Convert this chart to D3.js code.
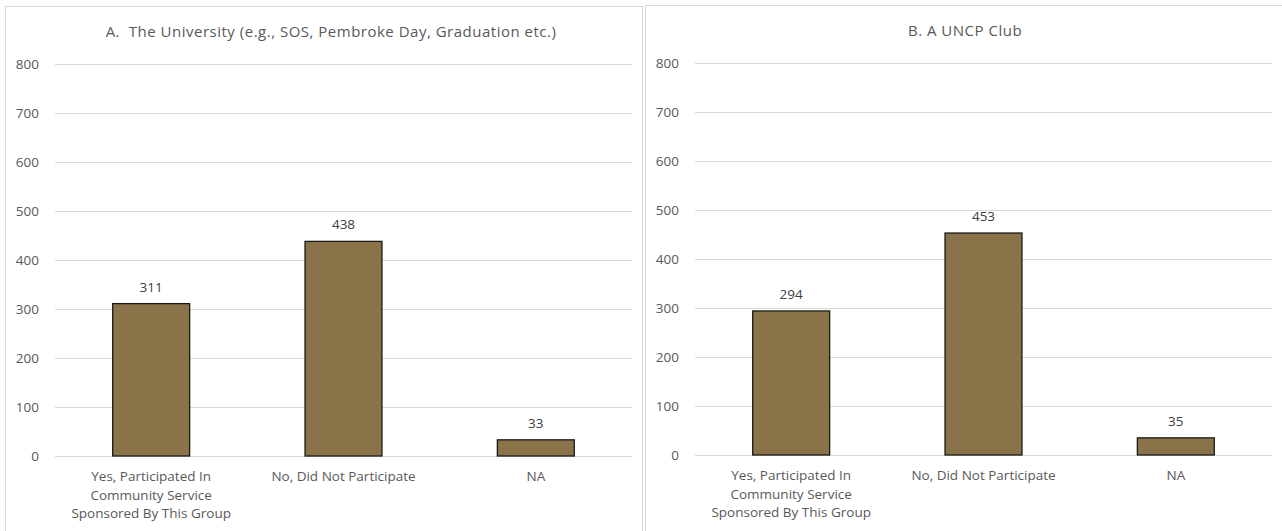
<!DOCTYPE html>
<html>
<head>
<meta charset="utf-8">
<script src="https://cdn.jsdelivr.net/npm/d3@7"></script>
<style>
  body { margin: 0; background: #fff; }
  svg { display: block; font-family: "Open Sans", "Liberation Sans", Arial, sans-serif; }
  text { white-space: pre; }
</style>
</head>
<body>
<div id="chart"></div>
<script>
// Categories shared by both panels
const categories = [
  "Yes, Participated In Community Service Sponsored By This Group",
  "No, Did Not Participate",
  "NA"
];
const categoryLines = [
  ["Yes, Participated In", "Community Service", "Sponsored By This Group"],
  ["No, Did Not Participate"],
  ["NA"]
];

const titleA = "A.  The University (e.g., SOS, Pembroke Day, Graduation etc.)";
const valuesA = [311, 438, 33];

const titleB = "B. A UNCP Club";
const valuesB = [294, 453, 35];

const yTicks = [0, 100, 200, 300, 400, 500, 600, 700, 800];

const width = 1282;
const height = 531;
const textColor = "#595959";
const gridColor = "#d9d9d9";
const barColor = "#8b7349";

const svg = d3.select("#chart")
  .append("svg")
  .attr("width", width)
  .attr("height", height);

function drawPanel(ox, oy, pw, title, titleX, values) {
  const g = svg.append("g").attr("transform", `translate(${ox},${oy})`);

  // panel border
  g.append("rect")
    .attr("x", 0.5)
    .attr("y", 0.5)
    .attr("width", pw)
    .attr("height", 600)
    .attr("fill", "none")
    .attr("stroke", gridColor);

  const x = d3.scaleBand()
    .domain(categories)
    .range([50, 627])
    .paddingInner(0.6)
    .paddingOuter(0.3);

  const y = d3.scaleLinear()
    .domain([0, 800])
    .range([450, 58]);

  // gridlines
  g.selectAll("line.grid")
    .data(yTicks)
    .enter()
    .append("line")
    .attr("class", "grid")
    .attr("x1", 50)
    .attr("x2", 627)
    .attr("y1", d => Math.round(y(d)) + 0.5)
    .attr("y2", d => Math.round(y(d)) + 0.5)
    .attr("stroke", gridColor)
    .attr("stroke-width", 1);

  // y tick labels
  g.selectAll("text.ytick")
    .data(yTicks)
    .enter()
    .append("text")
    .attr("class", "ytick")
    .attr("x", 34)
    .attr("y", d => y(d) + 5)
    .attr("text-anchor", "end")
    .attr("font-size", 13.5)
    .attr("fill", textColor)
    .text(d => d);

  // bars
  g.selectAll("rect.bar")
    .data(values)
    .enter()
    .append("rect")
    .attr("class", "bar")
    .attr("x", (d, i) => x(categories[i]))
    .attr("y", d => y(d))
    .attr("width", x.bandwidth())
    .attr("height", d => y(0) - y(d))
    .attr("fill", barColor)
    .attr("stroke", "#1a1a1a")
    .attr("stroke-width", 1.3);

  // value labels
  g.selectAll("text.value")
    .data(values)
    .enter()
    .append("text")
    .attr("class", "value")
    .attr("x", (d, i) => x(categories[i]) + x.bandwidth() / 2)
    .attr("y", d => y(d) - 12)
    .attr("text-anchor", "middle")
    .attr("font-size", 13.5)
    .attr("fill", "#404040")
    .text(d => d);

  // category labels
  const labels = g.selectAll("text.xtick")
    .data(categories)
    .enter()
    .append("text")
    .attr("class", "xtick")
    .attr("text-anchor", "middle")
    .attr("font-size", 13.5)
    .attr("fill", textColor);

  labels.each(function(d, i) {
    const t = d3.select(this);
    categoryLines[i].forEach((line, j) => {
      t.append("tspan")
        .attr("x", x(d) + x.bandwidth() / 2)
        .attr("y", 475 + j * 18.5)
        .text(line);
    });
  });

  // title
  g.append("text")
    .attr("x", titleX)
    .attr("y", 31)
    .attr("text-anchor", "middle")
    .attr("font-size", 15)
    .attr("letter-spacing", 0.5)
    .attr("fill", textColor)
    .text(title);
}

drawPanel(5, 6, 637, titleA, 326, valuesA);
drawPanel(645, 5, 640, titleB, 320, valuesB);
</script>
</body>
</html>
